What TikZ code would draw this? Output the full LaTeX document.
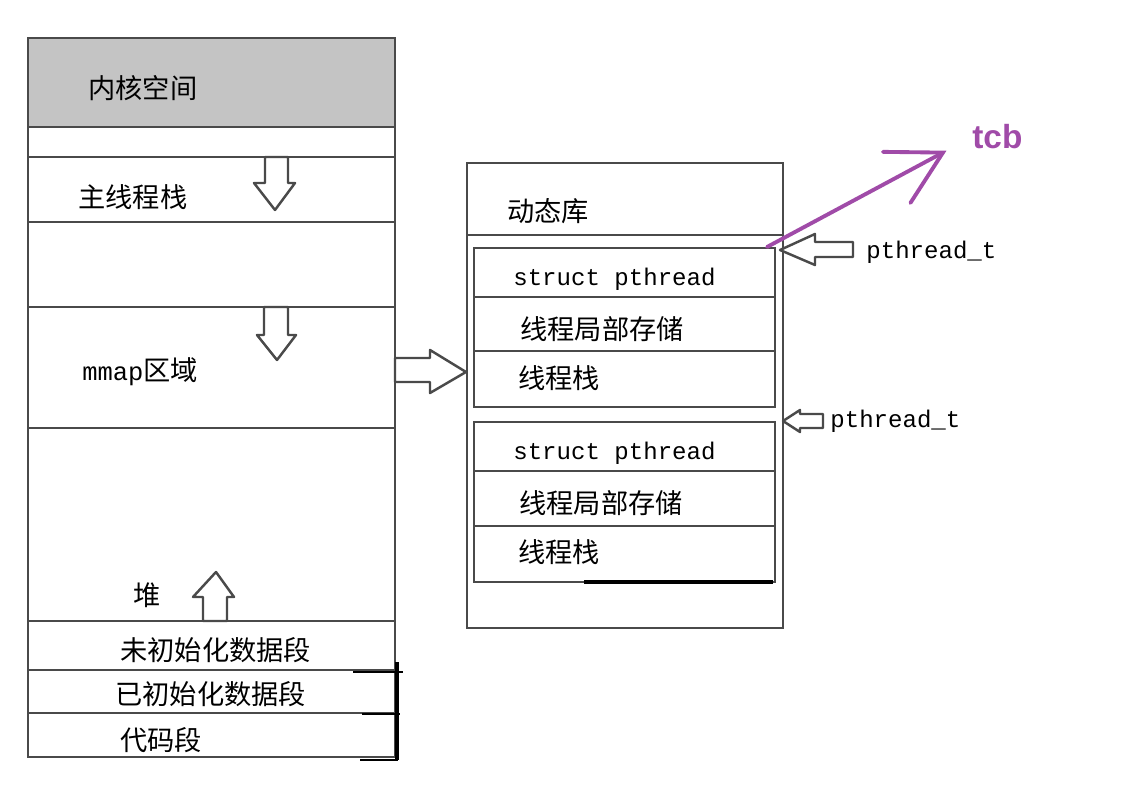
\documentclass[tikz,border=0pt]{standalone}
\usepackage{fontspec}
\setmainfont{Noto Sans CJK SC}
\newfontfamily\monof{Liberation Mono}
\newfontfamily\tcbfont{Liberation Sans}
\usetikzlibrary{arrows.meta}
\definecolor{edgegrey}{HTML}{4A4A4A}
\definecolor{kernelgrey}{HTML}{C4C4C4}
\definecolor{tcbpurple}{HTML}{A04BA8}

\begin{document}
\begin{tikzpicture}[
  x=0.02cm, y=-0.02cm,
  seg/.style={draw=edgegrey, line width=1.4pt},
  hollow/.style={draw=edgegrey, fill=white, line width=1.4pt, line join=round},
  lbl/.style={anchor=west, inner sep=0pt, font=\fontsize{15.5}{17}\selectfont},
  mono/.style={anchor=west, inner sep=0pt, font=\monof\fontsize{13.7}{15}\selectfont},
  tcbarr/.style={tcbpurple, line width=2.2pt, line cap=round,
    -{Straight Barb[length=1.05cm, width=1.16cm, line cap=round]}}
]
\useasboundingbox (0,0) rectangle (1148,793);

% process address space
\fill[kernelgrey] (28,38) rectangle (395,127);
\draw[seg] (28,38) rectangle (395,757);
\foreach \yy in {127,157,222,307,428,621,670,713}
  \draw[seg] (28,\yy) -- (395,\yy);
\draw[black, line width=2pt] (397,662) -- (397,760);
\draw[black, line width=1.6pt] (353,672) -- (403,672);
\draw[black, line width=1.6pt] (362,714) -- (400,714);
\draw[black, line width=1.6pt] (360,760) -- (398,760);

\node[lbl] (kernel) at (88,88) {内核空间};
\node[lbl] (mainstack) at (78,197) {主线程栈};
\node[lbl] (mmap) at (82,372) {{\monof\fontsize{14.5}{15}\selectfont mmap}区域};
\node[lbl] (heap) at (133,595) {堆};
\node[lbl] (bss) at (120,650) {未初始化数据段};
\node[lbl] (data) at (115,694) {已初始化数据段};
\node[lbl] (text) at (120,740) {代码段};

% growth arrows
\draw[hollow] (265,157) -- (288,157) -- (288,183) -- (295,183) -- (275,210)
  -- (254,183) -- (265,183) -- cycle;
\draw[hollow] (264,307) -- (288,307) -- (288,335) -- (296,335) -- (277,360)
  -- (257,335) -- (264,335) -- cycle;
\draw[hollow] (203,621) -- (227,621) -- (227,597) -- (234,597) -- (216,572)
  -- (193,597) -- (203,597) -- cycle;
\draw[hollow] (395,358) -- (430,358) -- (430,350) -- (466,372) -- (430,393)
  -- (430,382) -- (395,382) -- cycle;

% shared library area
\draw[seg] (467,163) rectangle (783,628);
\draw[seg] (467,235) -- (783,235);
\node[lbl] (dynlib) at (507,211) {动态库};

% thread 1
\draw[seg] (474,248) rectangle (775,407);
\draw[seg] (474,297) -- (775,297);
\draw[seg] (474,351) -- (775,351);
\node[mono] (pth1) at (513,279) {struct pthread};
\node[lbl] (tls1) at (520,329) {线程局部存储};
\node[lbl] (tstack1) at (518,378) {线程栈};

% thread 2
\draw[seg] (474,422) rectangle (775,582);
\draw[seg] (474,471) -- (775,471);
\draw[seg] (474,526) -- (775,526);
\draw[black, line width=1.8pt] (584,582) -- (773,582);
\node[mono] (pth2) at (513,453) {struct pthread};
\node[lbl] (tls2) at (519,503) {线程局部存储};
\node[lbl] (tstack2) at (518,552) {线程栈};

% pthread_t handles
\node[mono] (tid1) at (866,252) {pthread\_t};
\node[mono] (tid2) at (830,421) {pthread\_t};
\draw[hollow] (780,250) -- (815,234) -- (815,242) -- (853,242) -- (853,257)
  -- (815,257) -- (815,265) -- cycle;
\draw[hollow] (783,421) -- (800,410) -- (800,414) -- (823,414) -- (823,428)
  -- (800,428) -- (800,432) -- cycle;

% tcb
\node[anchor=west, inner sep=0pt, text=tcbpurple, font=\tcbfont\bfseries\fontsize{19}{21}\selectfont] (tcb) at (972,137) {tcb};
\coordinate (pthtop) at (767,247);
\draw[tcbarr, shorten >=0.58cm] (pthtop) -- (tcb.west);
\end{tikzpicture}
\end{document}
